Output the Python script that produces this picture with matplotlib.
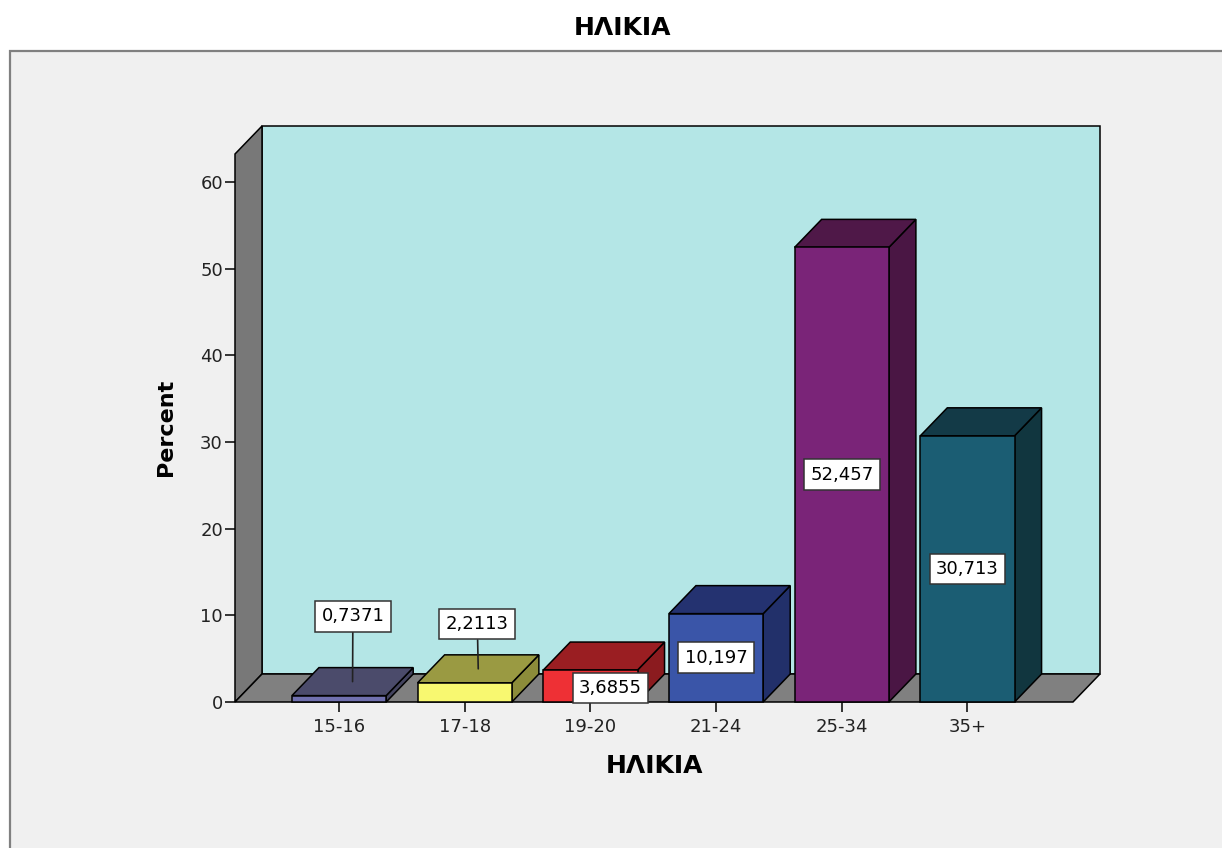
import matplotlib.pyplot as plt
from matplotlib.patches import Polygon, Rectangle

# data
ages = ['15-16', '17-18', '19-20', '21-24', '25-34', '35+']
percent = [0.7371, 2.2113, 3.6855, 10.197, 52.457, 30.713]
value_labels = ['0,7371', '2,2113', '3,6855', '10,197', '52,457', '30,713']

# colours: front, top, side
front_cols = ['#7070AE', '#F8F870', '#EE3035', '#3A55A8', '#7A2478', '#1B5D73']
top_cols = ['#4B4B6B', '#9A9A42', '#9A1E22', '#243270', '#4F1848', '#133A47']
side_cols = ['#44445F', '#8C8C3A', '#8B1B1F', '#22306A', '#4A1644', '#11363F']

plt.rcParams['font.family'] = ['DejaVu Sans']

fig = plt.figure(figsize=(12.22, 8.48), dpi=100)
fig.patch.set_facecolor('white')

# outer grey frame
fig.patches.append(Rectangle((10 / 1222, -0.02), 1.05, 1 - 51 / 848 + 0.02,
                             transform=fig.transFigure, facecolor='#F0F0F0',
                             edgecolor='#808080', lw=1.6, zorder=-10))

ax = fig.add_axes([235 / 1222, 146 / 848, 865 / 1222, 576 / 848])
ax.set_facecolor('none')
for s in ax.spines.values():
    s.set_visible(False)

x0, x1 = -0.828, 5.84     # floor front edge
dx, dy = 0.215, 3.23      # depth offset
ytop = 63.23              # wall height (front)
w = 0.375                 # half bar width
ax.set_xlim(x0, x1 + dx)
ax.set_ylim(0, ytop + dy)

lw = 1.1
# back wall
ax.add_patch(Rectangle((x0 + dx, dy), x1 - x0, ytop, facecolor='#B4E6E6',
                       edgecolor='black', lw=lw, zorder=1, clip_on=False))
# left wall
ax.add_patch(Polygon([(x0, 0), (x0 + dx, dy), (x0 + dx, ytop + dy), (x0, ytop)],
                     facecolor='#787878', edgecolor='black', lw=lw, zorder=1, clip_on=False))
# floor
ax.add_patch(Polygon([(x0, 0), (x1, 0), (x1 + dx, dy), (x0 + dx, dy)],
                     facecolor='#808080', edgecolor='black', lw=lw, zorder=1, clip_on=False))

# 3d bars
for i, v in enumerate(percent):
    ax.add_patch(Polygon([(i + w, 0), (i + w + dx, dy), (i + w + dx, v + dy), (i + w, v)],
                         facecolor=side_cols[i], edgecolor='black', lw=lw, zorder=2,
                         clip_on=False))
    ax.add_patch(Polygon([(i - w, v), (i + w, v), (i + w + dx, v + dy), (i - w + dx, v + dy)],
                         facecolor=top_cols[i], edgecolor='black', lw=lw, zorder=2,
                         clip_on=False))
    ax.add_patch(Rectangle((i - w, 0), 2 * w, v, facecolor=front_cols[i],
                           edgecolor='black', lw=lw, zorder=2, clip_on=False))

# value labels
box = dict(boxstyle='square,pad=0.35', facecolor='white', edgecolor='#333333', lw=1.1)
label_pos = {0: (0.11, 9.9), 1: (0.1, 9.0), 2: (0.16, 1.6)}
for i, v in enumerate(percent):
    if i in (0, 1):
        ox, oy = label_pos[i]
        ax.annotate(value_labels[i], xy=(i + dx / 2, v + dy / 2), xytext=(i + ox, oy),
                    ha='center', va='center', fontsize=13, bbox=box, zorder=5,
                    arrowprops=dict(arrowstyle='-', color='#222222', lw=1.2,
                                    shrinkA=0, shrinkB=0))
    elif i == 2:
        ox, oy = label_pos[i]
        ax.text(i + ox, oy, value_labels[i], ha='center', va='center',
                fontsize=13, bbox=box, zorder=5)
    else:
        ax.text(i, v / 2, value_labels[i], ha='center', va='center',
                fontsize=13, bbox=box, zorder=5)

ax.set_xticks(range(len(ages)))
ax.set_xticklabels(ages)
ax.set_yticks(range(0, 61, 10))
ax.tick_params(axis='both', direction='out', length=7.2, width=1.1, color='black',
               labelsize=13, labelcolor='#222222')
ax.tick_params(axis='x', pad=4)
ax.tick_params(axis='y', pad=1.5)

ax.set_xlabel('ΗΛΙΚΙΑ', fontsize=18, fontweight='bold')
ax.xaxis.set_label_coords((655 - 235) / 865, (702 - 754) / 576)
ax.set_ylabel('Percent', fontsize=16, fontweight='bold')
ax.yaxis.set_label_coords((176 - 235) / 865, (702 - 427) / 576)

fig.text(622 / 1222, 1 - 28 / 848, 'ΗΛΙΚΙΑ', ha='center', va='center',
         fontsize=18, fontweight='bold')

fig.savefig('out.png', dpi=100)
